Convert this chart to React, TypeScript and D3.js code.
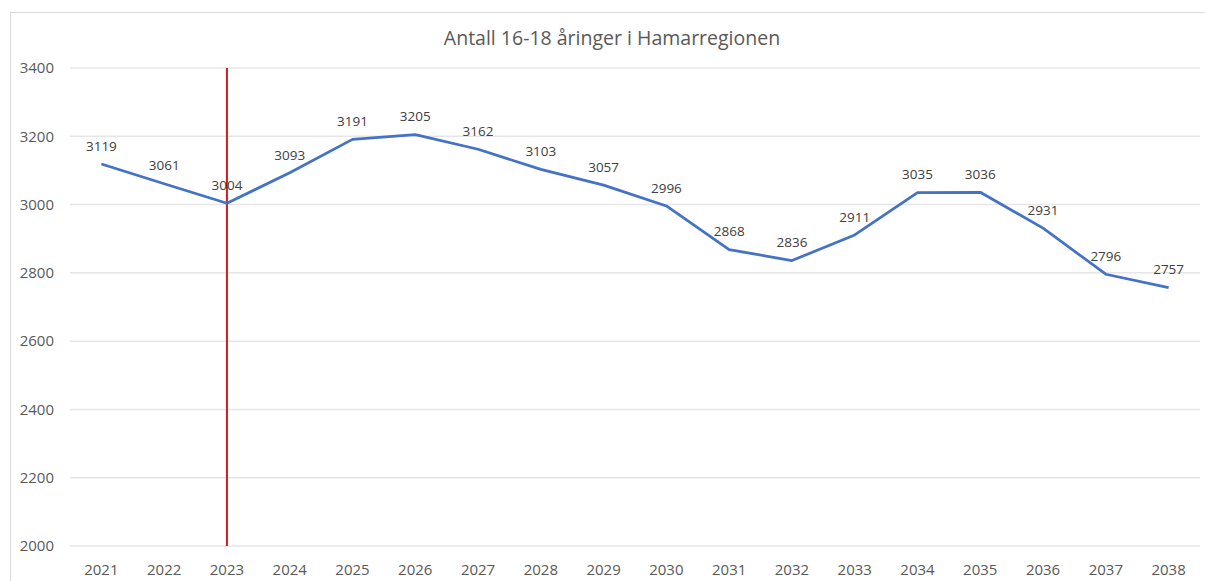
import { useRef, useEffect } from 'react';
import * as d3 from 'd3';

const years = ['2021', '2022', '2023', '2024', '2025', '2026', '2027', '2028', '2029', '2030', '2031', '2032', '2033', '2034', '2035', '2036', '2037', '2038'];
const counts = [3119, 3061, 3004, 3093, 3191, 3205, 3162, 3103, 3057, 2996, 2868, 2836, 2911, 3035, 3036, 2931, 2796, 2757];
const yTicks = [2000, 2200, 2400, 2600, 2800, 3000, 3200, 3400];
const markerYear = '2023';
const title = 'Antall 16-18 åringer i Hamarregionen';

export default function App() {
  const svgRef = useRef<SVGSVGElement>(null);

  useEffect(() => {
    document.body.style.margin = '0';
    document.body.style.overflow = 'hidden';
    const svg = svgRef.current;
    if (!svg) return;

    const width = 1205;
    const height = 581;
    const margin = { top: 68, right: 5, bottom: 35, left: 70 };
    const innerW = width - margin.left - margin.right;
    const innerH = height - margin.top - margin.bottom;
    const font = 'Open Sans, sans-serif';
    const textColor = '#595959';

    const svgSel = d3.select(svg);
    svgSel.selectAll('*').remove();
    svgSel.attr('width', width).attr('height', height);

    svgSel.append('rect').attr('width', width).attr('height', height).attr('fill', '#fff');

    // chart frame
    svgSel
      .append('rect')
      .attr('x', 10.5)
      .attr('y', 12.5)
      .attr('width', width)
      .attr('height', height)
      .attr('fill', 'none')
      .attr('stroke', '#d9d9d9');

    svgSel
      .append('text')
      .attr('x', 612)
      .attr('y', 45)
      .attr('text-anchor', 'middle')
      .attr('fill', textColor)
      .attr('font-family', font)
      .attr('font-size', '19.5px')
      .text(title);

    const g = svgSel.append('g').attr('transform', `translate(${margin.left},${margin.top})`);

    const x = d3.scaleBand().domain(years).range([0, innerW]);
    const y = d3.scaleLinear().domain([2000, 3400]).range([innerH, 0]);
    const cx = (d: string) => (x(d) ?? 0) + x.bandwidth() / 2;

    // Grid
    g.selectAll('.grid')
      .data(yTicks)
      .join('line')
      .attr('x1', 0)
      .attr('x2', innerW)
      .attr('y1', (d) => y(d))
      .attr('y2', (d) => y(d))
      .attr('stroke', '#e6e6e6')
      .attr('stroke-width', 1.5);

    // Y labels
    g.selectAll('.ylab')
      .data(yTicks)
      .join('text')
      .attr('x', -16)
      .attr('y', (d) => y(d))
      .attr('dy', '0.35em')
      .attr('text-anchor', 'end')
      .attr('fill', textColor)
      .attr('font-family', font)
      .attr('font-size', '15px')
      .text((d) => d);

    // X labels
    g.selectAll('.xlab')
      .data(years)
      .join('text')
      .attr('x', (d) => cx(d))
      .attr('y', innerH + 24)
      .attr('dy', '0.35em')
      .attr('text-anchor', 'middle')
      .attr('fill', textColor)
      .attr('font-family', font)
      .attr('font-size', '15px')
      .text((d) => d);

    // Red marker line
    g.append('line')
      .attr('x1', cx(markerYear))
      .attr('x2', cx(markerYear))
      .attr('y1', y(3400))
      .attr('y2', y(2000))
      .attr('stroke', '#cc1f1f')
      .attr('stroke-width', 2);

    const line = d3
      .line<number>()
      .x((_, i) => cx(years[i]))
      .y((d) => y(d));

    g.append('path')
      .datum(counts)
      .attr('d', line)
      .attr('fill', 'none')
      .attr('stroke', '#4472c4')
      .attr('stroke-width', 2.75)
      .attr('stroke-linejoin', 'round');

    // Data labels
    g.selectAll('.dlab')
      .data(counts)
      .join('text')
      .attr('x', (_, i) => cx(years[i]))
      .attr('y', (d) => y(d) - 18)
      .attr('dy', '0.35em')
      .attr('text-anchor', 'middle')
      .attr('fill', '#404040')
      .attr('font-family', font)
      .attr('font-size', '13.5px')
      .text((d) => d);
  }, []);

  return (
    <div>
      <svg ref={svgRef} style={{ display: 'block' }} />
    </div>
  );
}
